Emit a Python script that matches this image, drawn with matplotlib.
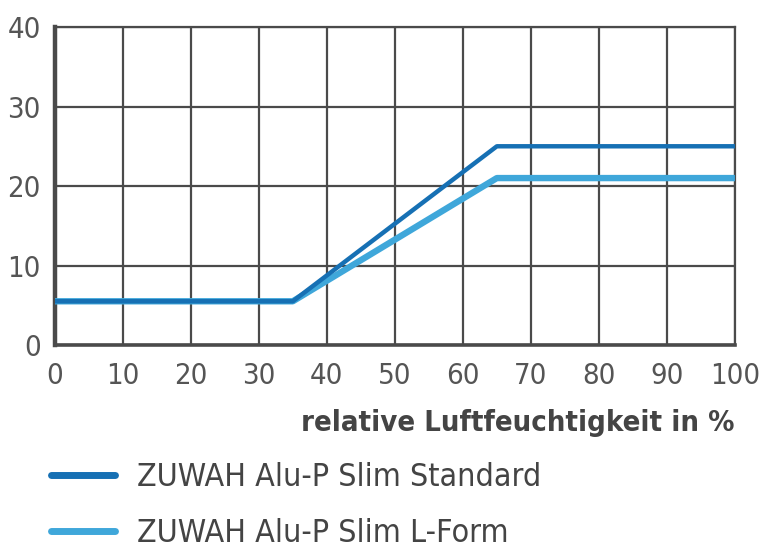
import matplotlib
matplotlib.use("Agg")
import matplotlib.pyplot as plt

plt.rcParams['font.family'] = ['DejaVu Sans']
plt.rcParams['font.stretch'] = 'condensed'

# Data
humidity = [0, 35, 65, 100]
standard = [5.5, 5.5, 25, 25]
lform = [5.5, 5.5, 21, 21]
x_ticks = [0, 10, 20, 30, 40, 50, 60, 70, 80, 90, 100]
y_ticks = [0, 10, 20, 30, 40]
labels = ["ZUWAH Alu-P Slim Standard", "ZUWAH Alu-P Slim L-Form"]

dark_blue = "#1670b4"
light_blue = "#3fa7da"
grey = "#4a4a4a"

fig = plt.figure(figsize=(7.6, 5.52), dpi=100)
ax = fig.add_axes([0.072, 0.375, 0.895, 0.576])

ax.plot(humidity, standard, color=dark_blue, linewidth=3.2, solid_capstyle="butt",
        label=labels[0], zorder=4)
ax.plot(humidity, lform, color=light_blue, linewidth=4.6, solid_capstyle="butt",
        label=labels[1], zorder=3)

ax.set_xlim(0, 100)
ax.set_ylim(0, 40)
ax.set_xticks(x_ticks)
ax.set_yticks(y_ticks)
ax.grid(True, color=grey, linewidth=1.6, zorder=0)
ax.set_axisbelow(True)

for s in ["top", "right"]:
    ax.spines[s].set_color(grey)
    ax.spines[s].set_linewidth(1.6)
ax.spines["left"].set_color(grey)
ax.spines["left"].set_linewidth(3.2)
ax.spines["bottom"].set_color(grey)
ax.spines["bottom"].set_linewidth(2.6)

ax.tick_params(axis="x", length=0, labelsize=21, labelcolor="#555555", pad=12)
ax.tick_params(axis="y", length=0, labelsize=21, labelcolor="#555555", pad=10)

ax.set_xlabel("relative Luftfeuchtigkeit in %", fontsize=21, color="#444444",
              fontweight="bold", loc="right", labelpad=14)

leg = fig.legend(loc="upper left", bbox_to_anchor=(0.05, 0.186), frameon=False,
                 fontsize=23, handlelength=2.0, handletextpad=0.7, labelspacing=0.78,
                 borderaxespad=0)
for line in leg.get_lines():
    line.set_linewidth(5)
    line.set_solid_capstyle("round")
for t in leg.get_texts():
    t.set_color("#444444")

fig.savefig("out.png", dpi=100)
